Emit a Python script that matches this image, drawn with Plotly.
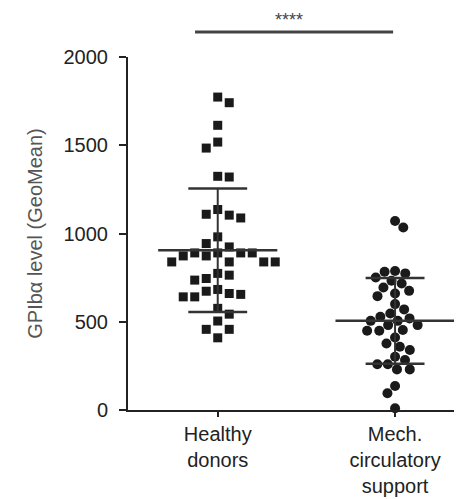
import numpy as np
import plotly.graph_objects as go

# ---- data ----
categories = ["Healthy<br>donors", "Mech.<br>circulatory<br>support"]
healthy = [1773, 1741, 1613, 1518, 1484, 1320, 1324, 1136, 1104, 1088, 1109,
           981, 924, 943, 890, 890, 890, 890, 873, 873, 839, 839, 839, 839,
           764, 774, 736, 745, 673, 655, 641, 641, 660, 683, 576, 543,
           504, 457, 457, 409]
mech = [1071, 1034, 788, 774, 751, 783, 732, 717, 675, 694, 645, 660, 600,
        547, 519, 528, 570, 505, 505, 481, 481, 449, 449, 453,
        411, 377, 340, 358, 302, 283, 259, 259, 230, 230, 136, 95, 10]
group_mean = [905, 505]
group_sd = [350, 243]
y_ticks = [0, 500, 1000, 1500, 2000]
sig_label = "****"

# ---- layout geometry (page has an 8px body margin) ----
W, H = 454, 491
ML, MR, MT, MB = 120, 7, 49, 89
XR = [-0.506, 1.338]
YR = [0, 2000]
px_per_x = (W - ML - MR) / (XR[1] - XR[0])
px_per_y = (H - MT - MB) / (YR[1] - YR[0])


def swarm(values, d, square):
    """greedy beeswarm in pixel space, returns offsets in x units"""
    order = np.argsort(-np.asarray(values), kind="stable")
    placed = []
    offs = [0.0] * len(values)
    flip = 1
    for i in order:
        y = values[i] * px_per_y
        bad = []
        for (xj, yj) in placed:
            dy = abs(y - yj)
            if dy < d:
                w = d if square else np.sqrt(d * d - dy * dy)
                bad.append((xj - w, xj + w))
        cands = [0.0] + [b[0] for b in bad] + [b[1] for b in bad]
        ok = [c for c in cands if all(not (lo + 1e-6 < c < hi - 1e-6) for lo, hi in bad)]
        m = min(abs(c) for c in ok)
        best = [c for c in ok if abs(abs(c) - m) < 1e-6]
        if len(best) > 1:
            c = max(best) if flip > 0 else min(best)
            flip = -flip
        else:
            c = best[0]
        placed.append((c, y))
        offs[i] = c / px_per_x
    return offs


ink = "#1a1a1a"
fig = go.Figure()

h_off = swarm(healthy, 11.5, True)
m_off = swarm(mech, 10.5, False)

fig.add_trace(go.Scatter(x=[0 + o for o in h_off], y=healthy, mode="markers",
                         marker=dict(symbol="square", size=9, color=ink),
                         cliponaxis=False, showlegend=False))
fig.add_trace(go.Scatter(x=[1 + o for o in m_off], y=mech, mode="markers",
                         marker=dict(symbol="circle", size=10, color=ink),
                         cliponaxis=False, showlegend=False))

line_c = "#333333"
for gi, (mu, sd) in enumerate(zip(group_mean, group_sd)):
    fig.add_trace(go.Scatter(x=[gi - 0.336, gi + 0.336], y=[mu, mu], mode="lines",
                             line=dict(color=line_c, width=2.5), showlegend=False))
    for v in (mu - sd, mu + sd):
        fig.add_trace(go.Scatter(x=[gi - 0.166, gi + 0.166], y=[v, v], mode="lines",
                                 line=dict(color=line_c, width=2.5), showlegend=False))
    fig.add_trace(go.Scatter(x=[gi, gi], y=[mu - sd, mu + sd], mode="lines",
                             line=dict(color=line_c, width=2), showlegend=False))

# significance bracket
ph = H - MT - MB
fig.add_shape(type="line", xref="x", yref="paper", x0=-0.128, x1=0.989,
              y0=(H - MB - 24) / ph, y1=(H - MB - 24) / ph,
              line=dict(color="#444", width=3))
fig.add_annotation(xref="paper", yref="paper", x=(281 - ML) / (W - ML - MR),
                   y=(H - MB) / ph, yanchor="top",
                   text=sig_label, showarrow=False,
                   font=dict(size=18, color="#444"))

font = "Liberation Sans, Arial, sans-serif"
fig.update_layout(
    width=W, height=H,
    margin=dict(l=ML, r=MR, t=MT, b=MB),
    paper_bgcolor="white", plot_bgcolor="white",
    font=dict(family=font, color="#222"),
    xaxis=dict(range=XR, tickvals=[0, 1], ticktext=categories, automargin=False,
               showline=True, linewidth=2, linecolor="#222",
               ticks="outside", ticklen=5, tickwidth=2, tickcolor="#222",
               showgrid=False, zeroline=False,
               tickfont=dict(size=20, color="#222")),
    yaxis=dict(range=YR, tickvals=y_ticks, automargin=False,
               showline=True, linewidth=2, linecolor="#222",
               ticks="outside", ticklen=7, tickwidth=2, tickcolor="#222",
               showgrid=False, zeroline=False,
               tickfont=dict(size=20, color="#222"),
               ticklabelstandoff=7,
               title=dict(text="GPIbα level (GeoMean)", standoff=16,
                          font=dict(size=20, color="#555"))),
)

fig.write_html("out.html")
